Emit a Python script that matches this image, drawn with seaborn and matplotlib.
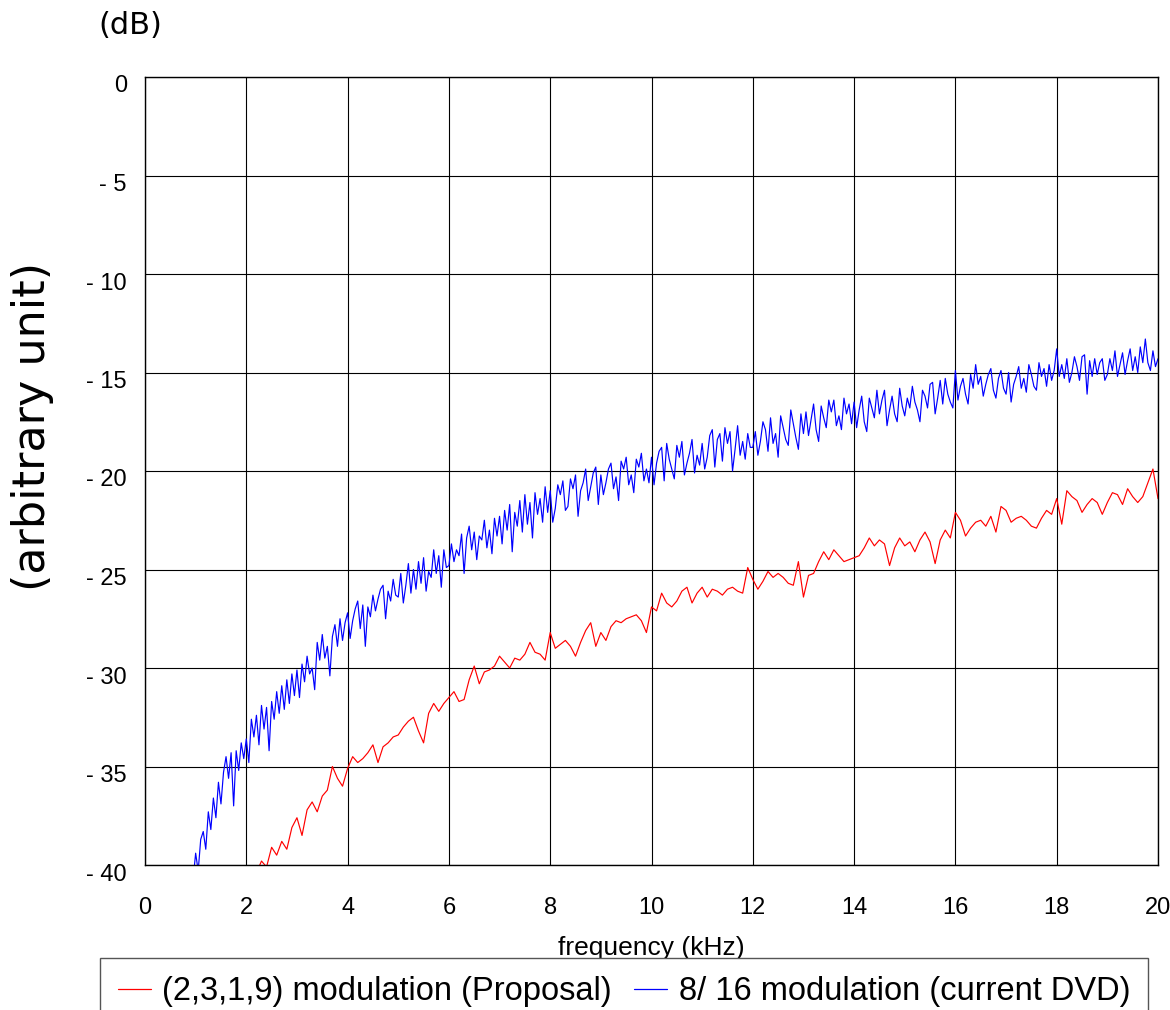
import numpy as np
import pandas as pd
import matplotlib
matplotlib.use("Agg")
import matplotlib.pyplot as plt
import matplotlib.transforms as mtransforms
import seaborn as sns

# Noise spectrum of two modulation codes, level in dB (arbitrary unit)
# 8/16 modulation: sampled every 0.05 kHz from 0.95 kHz to 20 kHz
dvd_start, dvd_stop = 0.95, 20.0
dvd_level = [
    -40.7,
    -39.4, -40.3, -38.7, -38.3, -39.2, -37.3, -38.2, -36.6, -37.6, -35.8,
    -36.9, -35.3, -34.5, -35.6, -34.3, -37.0, -34.2, -35.2, -33.8, -34.6,
    -33.6, -34.8, -32.6, -33.5, -32.4, -33.9, -31.9, -33.1, -32.0, -34.2,
    -31.7, -32.6, -31.2, -32.3, -30.9, -32.1, -30.6, -31.8, -30.3, -31.4,
    -30.1, -31.5, -29.8, -30.7, -29.4, -30.3, -30.0, -31.1, -28.7, -29.6,
    -28.3, -29.5, -28.9, -30.4, -28.4, -27.8, -28.9, -27.5, -28.6, -27.7,
    -27.2, -28.5, -27.6, -27.0, -26.6, -28.0, -26.8, -28.9, -26.9, -27.4,
    -26.3, -27.1, -26.5, -26.0, -25.8, -27.5, -26.1, -26.6, -25.5, -26.3,
    -26.4, -25.2, -26.7, -25.8, -24.7, -26.2, -25.0, -26.0, -24.6, -25.7,
    -24.4, -26.1, -25.1, -25.4, -24.0, -25.2, -24.3, -25.9, -24.0, -24.9,
    -24.8, -23.7, -24.6, -24.0, -24.3, -23.2, -25.2, -23.4, -22.8, -24.0,
    -23.1, -24.5, -23.3, -23.5, -22.5, -23.9, -23.0, -24.2, -22.4, -23.3,
    -22.3, -23.7, -22.0, -23.0, -21.7, -24.1, -22.1, -22.8, -21.5, -23.1,
    -21.2, -22.7, -21.6, -23.4, -21.1, -22.2, -21.4, -22.6, -20.8, -22.1,
    -21.0, -22.6, -21.9, -20.7, -21.2, -20.5, -22.0, -21.8, -20.4, -20.9,
    -20.2, -22.3, -21.0, -20.6, -19.9, -21.5, -20.8, -20.1, -19.8, -21.7,
    -20.2, -21.2, -20.6, -19.9, -19.6, -20.9, -20.3, -21.5, -19.5, -19.9,
    -19.3, -20.7, -20.2, -21.1, -19.4, -19.8, -19.1, -20.5, -19.9, -20.6,
    -19.3, -20.7, -19.6, -19.0, -18.8, -20.5, -18.6, -19.4, -19.9, -20.4,
    -18.7, -19.3, -18.5, -20.2, -19.6, -19.1, -18.4, -20.1, -19.2, -19.7,
    -18.6, -19.9, -19.3, -18.2, -17.9, -19.8, -18.4, -18.1, -19.5, -17.8,
    -18.6, -18.0, -20.0, -18.9, -17.7, -19.2, -18.5, -19.4, -18.1, -18.8,
    -18.8, -18.0, -19.2, -18.5, -17.5, -17.9, -19.0, -17.3, -18.6, -18.1,
    -19.3, -17.2, -17.8, -18.4, -18.7, -16.9, -17.6, -18.3, -18.9, -17.1,
    -18.1, -17.0, -18.2, -17.4, -16.6, -17.9, -18.5, -16.7, -17.3, -17.8,
    -16.4, -17.0, -16.4, -17.7, -17.2, -17.9, -16.3, -17.1, -16.6, -17.6,
    -16.5, -17.8, -16.9, -16.2, -17.5, -18.0, -16.3, -16.8, -17.3, -15.9,
    -17.1, -16.4, -15.9, -17.7, -16.9, -16.2, -17.1, -17.5, -15.8, -16.7,
    -17.2, -16.3, -16.8, -15.7, -16.5, -16.9, -17.5, -15.9, -16.2, -16.8,
    -15.6, -15.5, -17.1, -16.3, -15.4, -16.6, -15.3, -16.1, -16.5, -16.8,
    -14.9, -16.4, -15.7, -15.3, -16.1, -16.6, -15.1, -15.8, -14.6, -15.6,
    -15.2, -16.2, -15.6, -15.1, -14.8, -15.9, -16.3, -15.3, -14.9, -15.8,
    -16.1, -15.0, -16.5, -15.6, -15.2, -14.7, -15.8, -15.3, -16.0, -14.6,
    -15.1, -15.7, -15.9, -14.5, -15.2, -14.8, -15.7, -14.6, -15.4, -14.9,
    -13.8, -15.2, -14.6, -15.3, -14.3, -15.5, -15.0, -14.2, -14.7, -15.4,
    -14.2, -14.1, -16.1, -14.4, -15.2, -14.3, -15.1, -14.5, -14.3, -15.4,
    -15.1, -14.3, -14.9, -13.9, -15.2, -14.6, -14.0, -15.1, -14.4, -13.8,
    -14.9, -14.2, -15.0, -13.7, -14.5, -13.3, -14.5, -14.9, -13.9, -14.7,
    -14.3,
]

# (2,3,1,9) modulation: sampled every 0.1 kHz from 2.2 kHz to 20 kHz
prop_start, prop_stop = 2.2, 20.0
prop_level = [
    -40.4, -39.8, -40.1, -39.1, -39.5, -38.8, -39.2, -38.1,
    -37.6, -38.5, -37.2, -36.8, -37.3, -36.5, -36.2, -35.0, -35.6, -36.0,
    -35.1, -34.5, -34.8, -34.6, -34.3, -33.9, -34.8, -34.0, -33.8, -33.5,
    -33.4, -33.0, -32.7, -32.5, -33.2, -33.8, -32.3, -31.8, -32.2, -31.8,
    -31.5, -31.2, -31.7, -31.6, -30.6, -29.9, -30.8, -30.2, -30.1, -29.9,
    -29.4, -29.7, -30.0, -29.5, -29.6, -29.3, -28.7, -29.2, -29.3, -29.6,
    -28.2, -29.0, -28.8, -28.6, -28.9, -29.4, -28.7, -28.1, -27.7, -28.9,
    -28.2, -28.6, -27.9, -27.6, -27.7, -27.5, -27.4, -27.3, -27.6, -28.2,
    -26.9, -27.1, -26.2, -26.7, -26.9, -26.6, -26.1, -25.9, -26.7, -26.2,
    -25.9, -26.4, -26.0, -26.1, -26.3, -26.0, -25.9, -26.1, -26.2, -24.9,
    -25.5, -26.0, -25.6, -25.1, -25.4, -25.2, -25.4, -25.7, -25.8, -24.6,
    -26.4, -25.3, -25.2, -24.6, -24.1, -24.5, -24.0, -24.3, -24.6, -24.5,
    -24.4, -24.3, -23.9, -23.4, -23.8, -23.5, -23.7, -24.8, -23.9, -23.4,
    -23.8, -23.6, -24.1, -23.5, -23.1, -23.6, -24.7, -23.5, -23.0, -23.4,
    -22.1, -22.5, -23.3, -22.9, -22.6, -22.5, -22.8, -22.3, -23.1, -21.8,
    -22.0, -22.6, -22.4, -22.3, -22.5, -22.8, -22.9, -22.4, -22.0, -22.2,
    -21.4, -22.7, -21.0, -21.3, -21.5, -22.1, -21.7, -21.4, -21.6, -22.2,
    -21.6, -21.1, -21.2, -21.7, -20.9, -21.3, -21.6, -21.3, -20.6, -19.9,
    -21.4,
]

series_names = ["(2,3,1,9) modulation (Proposal)", "8/ 16 modulation (current DVD)"]
series_colors = ["#ff0000", "#0000ff"]

x_ticks = [0, 2, 4, 6, 8, 10, 12, 14, 16, 18, 20]
y_ticks = [0, -5, -10, -15, -20, -25, -30, -35, -40]
y_tick_labels = ["0", "- 5", "- 10", "- 15", "- 20", "- 25", "- 30", "- 35", "- 40"]

prop_freq = np.linspace(prop_start, prop_stop, len(prop_level))
dvd_freq = np.linspace(dvd_start, dvd_stop, len(dvd_level))

df = pd.concat([
    pd.DataFrame({"freq": prop_freq, "level": prop_level, "series": series_names[0]}),
    pd.DataFrame({"freq": dvd_freq, "level": dvd_level, "series": series_names[1]}),
], ignore_index=True)

sns.set_theme(style="white")
plt.rcParams["font.family"] = ["Liberation Sans", "DejaVu Sans"]
plt.rcParams["text.color"] = "black"

W, H = 1170, 1010
fig = plt.figure(figsize=(W / 100, H / 100), dpi=100)
ax = fig.add_axes([145 / W, 1 - 865 / H, (1158 - 145) / W, (865 - 77) / H])

sns.lineplot(data=df, x="freq", y="level", hue="series", hue_order=series_names,
             palette=series_colors, estimator=None, sort=False, linewidth=0.85,
             ax=ax)

ax.set_xlim(0, 20)
ax.set_ylim(-40, 0)
ax.set_xticks(x_ticks)
ax.set_yticks(y_ticks)
ax.set_yticklabels(y_tick_labels)
ax.grid(True, color="black", linewidth=0.8)
ax.set_axisbelow(True)
for s in ax.spines.values():
    s.set_color("black")
    s.set_linewidth(1.0)
ax.tick_params(axis="both", length=0, labelsize=17, colors="black")
ax.tick_params(axis="y", pad=13)
ax.tick_params(axis="x", pad=23)

# y labels sit slightly below their grid lines
shift = mtransforms.ScaledTranslation(0, -7 / 100, fig.dpi_scale_trans)
for lab in ax.get_yticklabels():
    lab.set_transform(lab.get_transform() + shift)

ax.set_xlabel("")
ax.set_ylabel("")
fig.text(651 / W, 1 - 948 / H, "frequency (kHz)", ha="center", va="center",
         fontsize=19, color="black", zorder=1)
fig.text(130 / W, 1 - 26 / H, "(dB)", ha="center", va="center",
         fontsize=22, family=["DejaVu Sans"], color="black")
fig.text(33 / W, 1 - 427 / H, "(arbitrary unit)", ha="center", va="center",
         rotation=90, fontsize=32, family=["DejaVu Sans"], color="black")

handles, labels = ax.get_legend_handles_labels()
ax.get_legend().remove()
leg = fig.legend(handles, labels, loc="upper left",
                 bbox_to_anchor=(100 / W, 1 - 958 / H), bbox_transform=fig.transFigure,
                 ncol=2, fontsize=23.5, frameon=True, fancybox=False,
                 facecolor="white", framealpha=1.0,
                 edgecolor="#555555", borderaxespad=0, borderpad=0.55,
                 handlelength=1.0, handletextpad=0.35, columnspacing=0.7)
leg.set_zorder(5)
leg.get_frame().set_linewidth(1.0)
for line in leg.get_lines():
    line.set_linewidth(0.9)
for t in leg.get_texts():
    t.set_color("black")

fig.savefig("out.png", dpi=100)
